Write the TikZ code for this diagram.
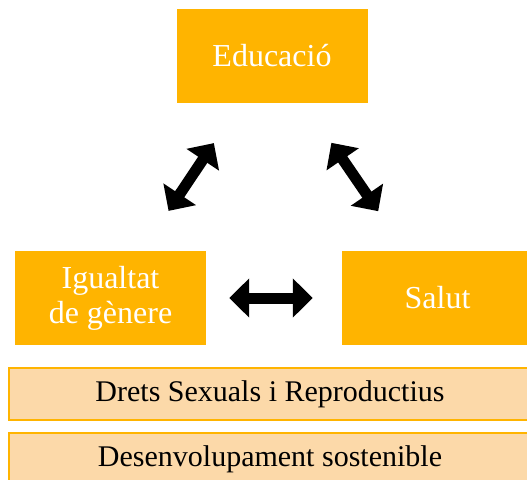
\documentclass[tikz,border=0pt]{standalone}
\usepackage{fontspec}
\setmainfont{Liberation Serif}
\usetikzlibrary{arrows.meta}
\definecolor{boxgold}{HTML}{FFB400}
\definecolor{barpeach}{HTML}{FCD9A9}

\begin{document}
\begin{tikzpicture}[x=1pt,y=1pt]
    \tikzstyle{topic}=[fill=boxgold,text=white,minimum width=191pt,minimum height=94pt,
        inner sep=0pt,align=center,font=\fontsize{32}{35}\selectfont]
    \tikzstyle{band}=[fill=barpeach,draw=boxgold,line width=2pt,minimum width=522pt,
        minimum height=52pt,inner sep=0pt,font=\fontsize{30}{34}\selectfont]
    \tikzstyle{twoway}=[{Triangle[length=20pt,width=38pt]}-{Triangle[length=20pt,width=38pt]},
        line width=11pt,black]

    \useasboundingbox (0,0) rectangle (527,-479);

    % Draw the three topic boxes
    \node[topic] (educacio) at (272,-56) {Educació};
    \node[topic] (igualtat) at (110.5,-298) {Igualtat\\de gènere};
    \node[topic] (salut) at (437.5,-298) {Salut};

    % Draw the two bands at the bottom
    \node[band] (drets) at (270,-394) {Drets Sexuals i Reproductius};
    \node[band] (desenv) at (270,-459) {Desenvolupament sostenible};

    % Connect the topic boxes
    \draw[twoway,shorten <=48pt,shorten >=48pt] (educacio) -- (igualtat);
    \draw[twoway,shorten <=48pt,shorten >=48pt] (educacio) -- (salut);
    \draw[twoway,shorten <=23pt,shorten >=29pt] (igualtat) -- (salut);
\end{tikzpicture}
\end{document}
